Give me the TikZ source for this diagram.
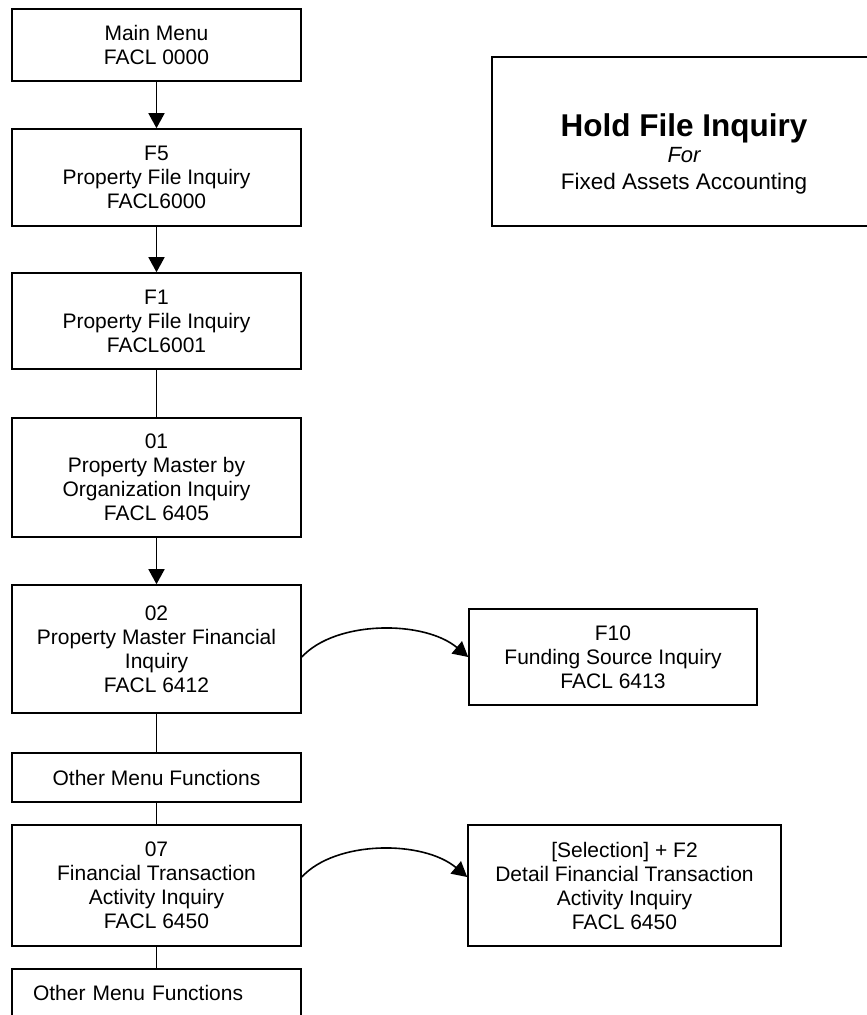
\documentclass[tikz,border=0pt]{standalone}
\usepackage{fontspec}
\setmainfont{Liberation Sans}
\usetikzlibrary{arrows.meta}
\begin{document}
\begin{tikzpicture}[x=1pt,y=-1pt,
  box/.style={draw, line width=1.6pt, minimum width=289pt, align=center,
    font=\fontsize{21}{24}\selectfont, inner sep=0pt},
  arr/.style={-{Triangle[length=15pt,width=16pt]}, line width=1.6pt},
  ln/.style={line width=1.6pt},
  ttl/.style={anchor=base, inner sep=0pt}]
\useasboundingbox (0,0) rectangle (867,1015);
\node[box, minimum height=72pt] (main) at (156.5,45) {Main Menu\\FACL 0000};
\node[box, minimum height=97pt] (f5) at (156.5,177.5) {F5\\Property File Inquiry\\FACL6000};
\node[box, minimum height=96pt] (f1) at (156.5,321) {F1\\Property File Inquiry\\FACL6001};
\node[box, minimum height=119pt] (m01) at (156.5,477.5) {01\\Property Master by\\Organization Inquiry\\FACL 6405};
\node[box, minimum height=128pt] (m02) at (156.5,649) {02\\Property Master Financial\\Inquiry\\FACL 6412};
\node[box, minimum height=49pt] (oth1) at (156.5,777.5) {Other Menu Functions};
\node[box, minimum height=121pt] (m07) at (156.5,885.5) {07\\Financial Transaction\\Activity Inquiry\\FACL 6450};
\node[box, minimum height=48pt, text width=247pt, align=left, inner xsep=21pt] (oth2) at (156.5,993) {Other Menu Functions};
\node[box, minimum width=288pt, minimum height=96pt] (f10) at (613,657) {F10\\Funding Source Inquiry\\FACL 6413};
\node[box, minimum width=313pt, minimum height=121pt] (sel) at (624.5,885.5) {[Selection] + F2\\Detail Financial Transaction\\Activity Inquiry\\FACL 6450};
\node[draw, line width=1.6pt, minimum width=384pt, minimum height=169pt, inner sep=0pt] (title) at (684,141.5) {};
\node[ttl, font=\fontsize{31.5}{31.5}\selectfont\bfseries] (hold) at (684,136) {Hold File Inquiry};
\node[ttl, font=\fontsize{22}{24}\selectfont\itshape] (for) at (684,162) {For};
\node[ttl, font=\fontsize{22.5}{24}\selectfont] (fixed) at (684,189) {Fixed Assets Accounting};
\draw[arr] (main) -- (f5);
\draw[arr] (f5) -- (f1);
\draw[ln] (f1) -- (m01);
\draw[arr] (m01) -- (m02);
\draw[ln] (m02) -- (oth1);
\draw[ln] (oth1) -- (m07);
\draw[ln] (m07) -- (oth2);
\draw[arr] (m02.east |- f10.west) .. controls +(34,-37) and +(-44,-37) .. (f10.west);
\draw[arr] ([yshift=8.5pt]m07.east) .. controls +(34,-37) and +(-44,-37) .. ([yshift=8.5pt]sel.west);
\end{tikzpicture}
\end{document}
